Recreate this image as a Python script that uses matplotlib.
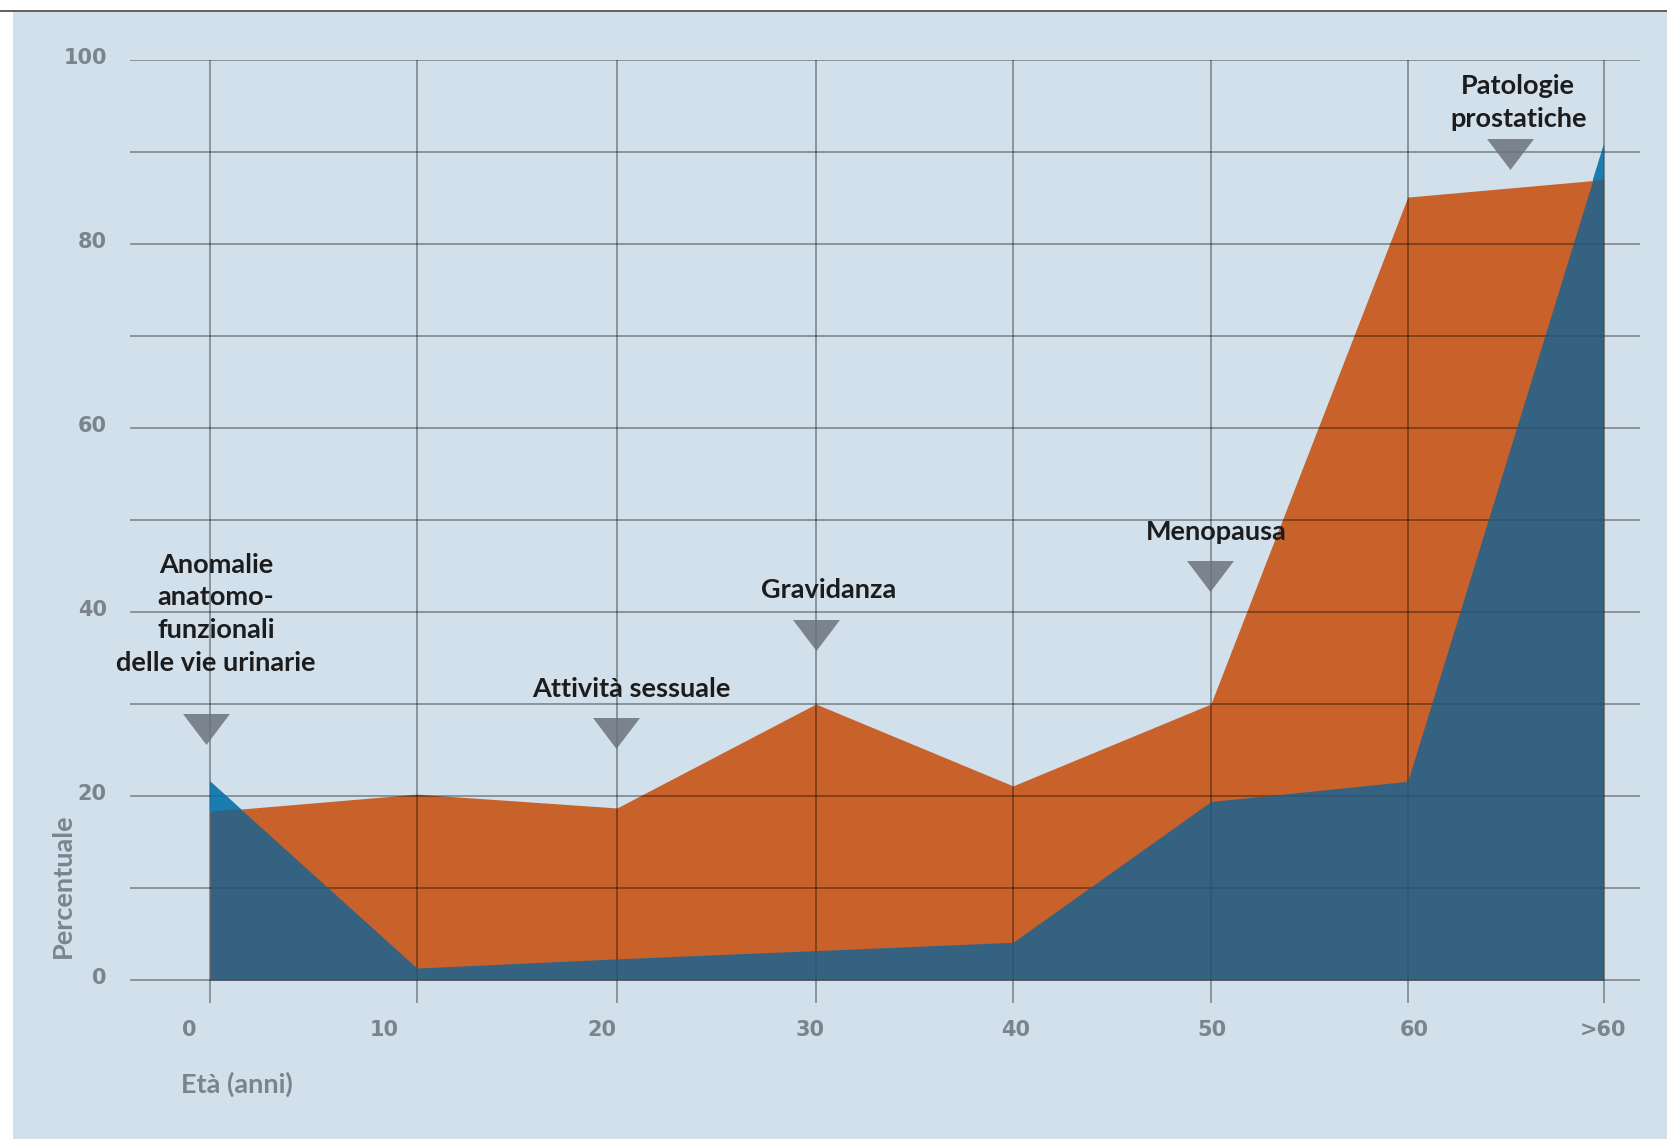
import matplotlib.pyplot as plt
import matplotlib.transforms as mtransforms
import numpy as np
from matplotlib.lines import Line2D
from matplotlib.patches import Rectangle

# data
eta = ['0', '10', '20', '30', '40', '50', '60', '>60']
femmine = [18.3, 20.2, 18.7, 30.0, 21.1, 30.0, 85.1, 87.0]
maschi = [21.6, 1.3, 2.3, 3.2, 4.1, 19.4, 21.6, 90.8]
eventi = ['Anomalie\nanatomo-\nfunzionali\ndelle vie urinarie', 'Attività sessuale',
          'Gravidanza', 'Menopausa', 'Patologie\nprostatiche']

# layout (data units)
grid_x = [0, 1.039, 2.044, 3.043, 4.033, 5.027, 6.016, 7.0]
label_x = [-0.105, 0.874, 1.969, 3.014, 4.044, 5.033, 6.047, 6.997]
tri_x = [-0.018, 2.039, 3.043, 5.022, 6.528]
tri_y = [27.3, 26.85, 37.5, 43.9, 89.8]
txt_x = [0.030, 2.114, 3.108, 5.052, 6.571]
txt_y = [39.8, 31.6, 42.4, 48.75, 95.4]

ARANCIO = '#c8622a'
BLU_SCURO = '#366282'
BLU = '#1a7db0'
SFONDO = '#d2e0eb'
GRIGIO = '#7b848e'
FONT = ['Lato', 'DejaVu Sans']

fig = plt.figure(figsize=(16.67, 11.39), dpi=100)
fig.patch.set_facecolor('white')
fig.patches.append(Rectangle((13 / 1667, 0), 1, 1 - 11 / 1139, transform=fig.transFigure,
                             facecolor=SFONDO, edgecolor='none', zorder=-5))
fig.lines.append(Line2D([0, 1], [1 - 10.5 / 1139] * 2, transform=fig.transFigure,
                        color='#555555', lw=1.3, zorder=-4))

ax = fig.add_axes([130.4 / 1667, (1139 - 1003) / 1139, (1639.5 - 130.4) / 1667, (1003 - 60) / 1139])
ax.set_facecolor('none')
for s in ax.spines.values():
    s.set_visible(False)
ax.set_xlim(-0.4, 7.18)
ax.set_ylim(-2.5, 100)

x = np.array(grid_x)
f = np.array(femmine)
m = np.array(maschi)
righe = np.arange(0, 101, 10)

ax.fill_between(x, 0, f, color=ARANCIO, lw=0, zorder=1)
# griglia sotto il blu, poi una griglia leggera sopra tutto
ax.hlines(righe, -0.4, 7.18, color='black', alpha=0.34, lw=1.1, zorder=2)
ax.vlines(x, -2.5, 100, color='black', alpha=0.34, lw=1.1, zorder=2)
ax.fill_between(x, 0, m, color=BLU_SCURO, lw=0, zorder=3)
ax.fill_between(x, f, m, where=m >= f, interpolate=True, color=BLU, lw=0, zorder=3)
ax.hlines(righe, -0.4, 7.18, color='black', alpha=0.12, lw=1.1, zorder=7)
ax.vlines(x, -2.5, 100, color='black', alpha=0.12, lw=1.1, zorder=7)

ax.set_xticks(label_x, eta)
ax.set_yticks(np.arange(0, 101, 20))
ax.tick_params(length=0, colors=GRIGIO, labelsize=15)
ax.tick_params(axis='x', pad=12)
ax.tick_params(axis='y', pad=17)
su = mtransforms.ScaledTranslation(0, 0.04, fig.dpi_scale_trans)
for lab in ax.get_xticklabels() + ax.get_yticklabels():
    lab.set_fontweight('bold')
for lab in ax.get_yticklabels():
    lab.set_transform(lab.get_transform() + su)

ax.plot(tri_x, tri_y, ls='none', marker=[(-0.5, 0.33), (0.5, 0.33), (0, -0.33)],
        markersize=33.8, color=GRIGIO, mec='none', zorder=5, clip_on=False)
for t, tx, ty in zip(eventi, txt_x, txt_y):
    ax.text(tx, ty, t, ha='center', va='center', fontsize=19.5, fontweight='bold',
            color='#1c1c1c', family=FONT, linespacing=1.44, zorder=6)

fig.text(63 / 1667, 1 - 886 / 1139, 'Percentuale', rotation=90, ha='center', va='center',
         fontsize=19.5, fontweight='bold', color=GRIGIO, family=FONT)
fig.text(181 / 1667, 1 - 1084 / 1139, 'Età (anni)', ha='left', va='center',
         fontsize=19.5, fontweight='bold', color=GRIGIO, family=FONT)

plt.savefig('out.png', dpi=100)
